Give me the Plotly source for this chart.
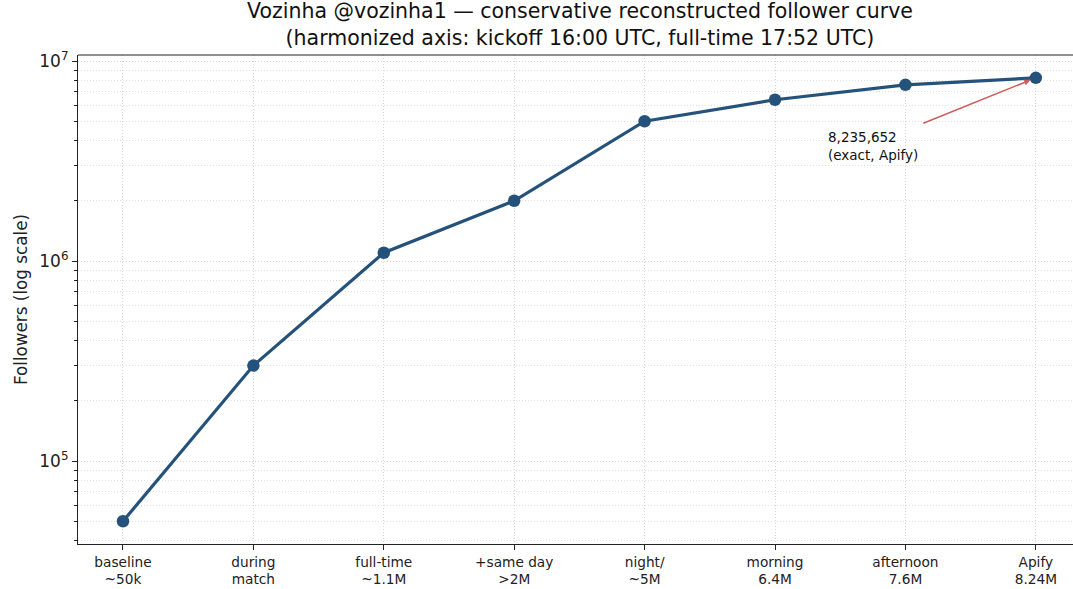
import math
import plotly.graph_objects as go

# follower milestones
stages = ['baseline<br>~50k', 'during<br>match', 'full-time<br>~1.1M', '+same day<br>>2M',
          'night/<br>~5M', 'morning<br>6.4M', 'afternoon<br>7.6M', 'Apify<br>8.24M']
followers = [50000, 300000, 1100000, 2000000, 5000000, 6400000, 7600000, 8235652]
y_tickvals = [1e5, 1e6, 1e7]
y_ticktext = ['10<sup>5</sup>', '10<sup>6</sup>', '10<sup>7</sup>']

line_color = '#24527a'
grid_color = '#d6d6d6'
font = 'DejaVu Sans'

xs = list(range(len(stages)))

fig = go.Figure()
fig.add_trace(go.Scatter(x=xs, y=followers, mode='lines+markers',
                         line=dict(color=line_color, width=3.2),
                         marker=dict(color=line_color, size=12.5),
                         showlegend=False, hoverinfo='skip'))

fig.update_layout(
    width=1073, height=589,
    margin=dict(l=78, r=0, t=55, b=45),
    plot_bgcolor='white', paper_bgcolor='white',
    font=dict(family=font, color='#222'),
)

# two-line title, centred over the (uncropped) axes
fig.add_annotation(text='Vozinha @vozinha1 — conservative reconstructed follower curve<br>'
                        '(harmonized axis: kickoff 16:00 UTC, full-time 17:52 UTC)',
                   xref='paper', yref='paper', x=0.5, y=1, xanchor='center', yanchor='bottom',
                   xshift=4, yshift=3, showarrow=False, align='center',
                   font=dict(size=20.5, family=font, color='#111'))

fig.update_xaxes(range=[-0.345, 7.285], tickmode='array', tickvals=xs, ticktext=stages,
                 showline=True, linecolor='#222', linewidth=1.2,
                 ticks='outside', ticklen=5, tickcolor='#222',
                 showgrid=True, gridcolor=grid_color, griddash='1px,2px', gridwidth=1,
                 tickfont=dict(size=13.7, family=font), zeroline=False)

fig.update_yaxes(type='log', range=[4.585, 7.03], tickmode='array',
                 tickvals=y_tickvals, ticktext=y_ticktext,
                 showline=True, linecolor='#222', linewidth=1.2,
                 ticks='outside', ticklen=5, tickcolor='#222',
                 showgrid=True, gridcolor=grid_color, griddash='1px,2px', gridwidth=1,
                 minor=dict(dtick='D1', ticks='outside', ticklen=3, tickcolor='#222',
                            showgrid=True, gridcolor='#e0e0e0', griddash='1px,2px'),
                 tickfont=dict(size=17, family=font),
                 title=dict(text='Followers (log scale)', font=dict(size=16.8, family=font), standoff=7),
                 zeroline=False)

# top spine
fig.add_shape(type='line', xref='paper', yref='paper', x0=0, x1=1, y0=1, y1=1,
              line=dict(color='#222', width=1.2))

# annotation for the exact Apify count (log axis -> log10 position)
y_last = math.log10(followers[-1])
fig.add_annotation(x=xs[-1], y=y_last, xref='x', yref='y', text='',
                   showarrow=True, ax=-114, ay=46, arrowhead=2, arrowsize=0.8,
                   arrowwidth=1.5, arrowcolor='#cd5c5c', standoff=6)
fig.add_annotation(x=xs[-1], y=y_last, xref='x', yref='y',
                   text='8,235,652<br>(exact, Apify)', showarrow=False,
                   xanchor='left', yanchor='top', align='left',
                   xshift=-210, yshift=-49, font=dict(size=13.5, family=font, color='#111'))

fig.write_html('out.html', config={'displayModeBar': False},
               post_script="document.body.style.margin='0';")
